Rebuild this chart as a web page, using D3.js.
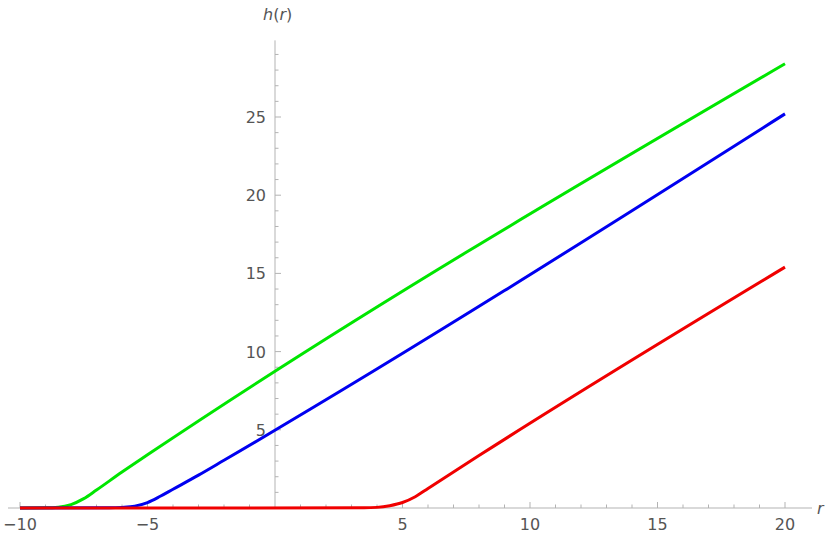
<!DOCTYPE html>
<html><head><meta charset="utf-8">
<script src="https://cdn.jsdelivr.net/npm/d3@7"></script>
<style>body{margin:0;background:#fff}text{font-family:"DejaVu Sans",sans-serif}</style>
</head><body><svg id="chart" width="830" height="543"></svg>
<script>
var greenPts = [[-10,0],[-9,0.01],[-8.5,0.05],[-8,0.22],[-7.5,0.6],[-7,1.15],[-6,2.3],[-5,3.4],[20,28.4]];
var bluePts  = [[-10,0],[-6.5,0.01],[-6,0.04],[-5.5,0.12],[-5,0.35],[-4.5,0.75],[-4,1.2],[-3,2.1],[-2,3.05],[20,25.2]];
var redPts   = [[-10,0],[3.5,0.01],[4,0.04],[4.5,0.15],[5,0.35],[5.5,0.72],[6,1.25],[7,2.3],[8,3.35],[20,15.4]];
var xTicks = [-10,-5,5,10,15,20];
var yTicks = [5,10,15,20,25];

var svg = d3.select("#chart");
var x = d3.scaleLinear().domain([-10,20]).range([20,785]);
var y = d3.scaleLinear().domain([0,25]).range([508,117]);
var axisCol = "#b3b3b3", lblCol = "#555";

var g = svg.append("g");
// axes lines
g.append("line").attr("x1",8).attr("x2",812).attr("y1",y(0)).attr("y2",y(0)).attr("stroke",axisCol);
g.append("line").attr("x1",x(0)).attr("x2",x(0)).attr("y1",y(0)).attr("y2",y(29.9)).attr("stroke",axisCol);

// minor ticks
d3.range(-10,20.01,1).forEach(function(v){
  if (v===0) return;
  var major = v%5===0;
  g.append("line").attr("x1",x(v)).attr("x2",x(v)).attr("y1",y(0)).attr("y2",y(0)-(major?6:3.5)).attr("stroke",axisCol);
});
d3.range(1,29.9,1).forEach(function(v){
  var major = v%5===0;
  g.append("line").attr("y1",y(v)).attr("y2",y(v)).attr("x1",x(0)).attr("x2",x(0)+(major?6:3.5)).attr("stroke",axisCol);
});
xTicks.forEach(function(v){
  g.append("text").attr("x",x(v)).attr("y",y(0)+22).attr("text-anchor","middle").attr("font-size",16).attr("fill",lblCol)
    .text(v<0 ? "\u2212"+(-v) : v);
});
yTicks.forEach(function(v){
  g.append("text").attr("x",x(0)-9).attr("y",y(v)+6).attr("text-anchor","end").attr("font-size",16).attr("fill",lblCol).text(v);
});
var hl = g.append("text").attr("x",x(0)-12).attr("y",20).attr("font-size",16).attr("fill",lblCol);
hl.append("tspan").attr("font-style","italic").text("h");
hl.append("tspan").text("(");
hl.append("tspan").attr("font-style","italic").text("r");
hl.append("tspan").text(")");
g.append("text").attr("x",817).attr("y",y(0)+6).attr("font-size",16).attr("font-style","italic").attr("fill",lblCol).text("r");

var line = d3.line().x(function(d){return x(d[0]);}).y(function(d){return y(d[1]);}).curve(d3.curveMonotoneX);
[[greenPts,"#00e600"],[bluePts,"#0000f0"],[redPts,"#f00000"]].forEach(function(s){
  g.append("path").datum(s[0]).attr("d",line).attr("fill","none").attr("stroke",s[1]).attr("stroke-width",3);
});
</script></body></html>
